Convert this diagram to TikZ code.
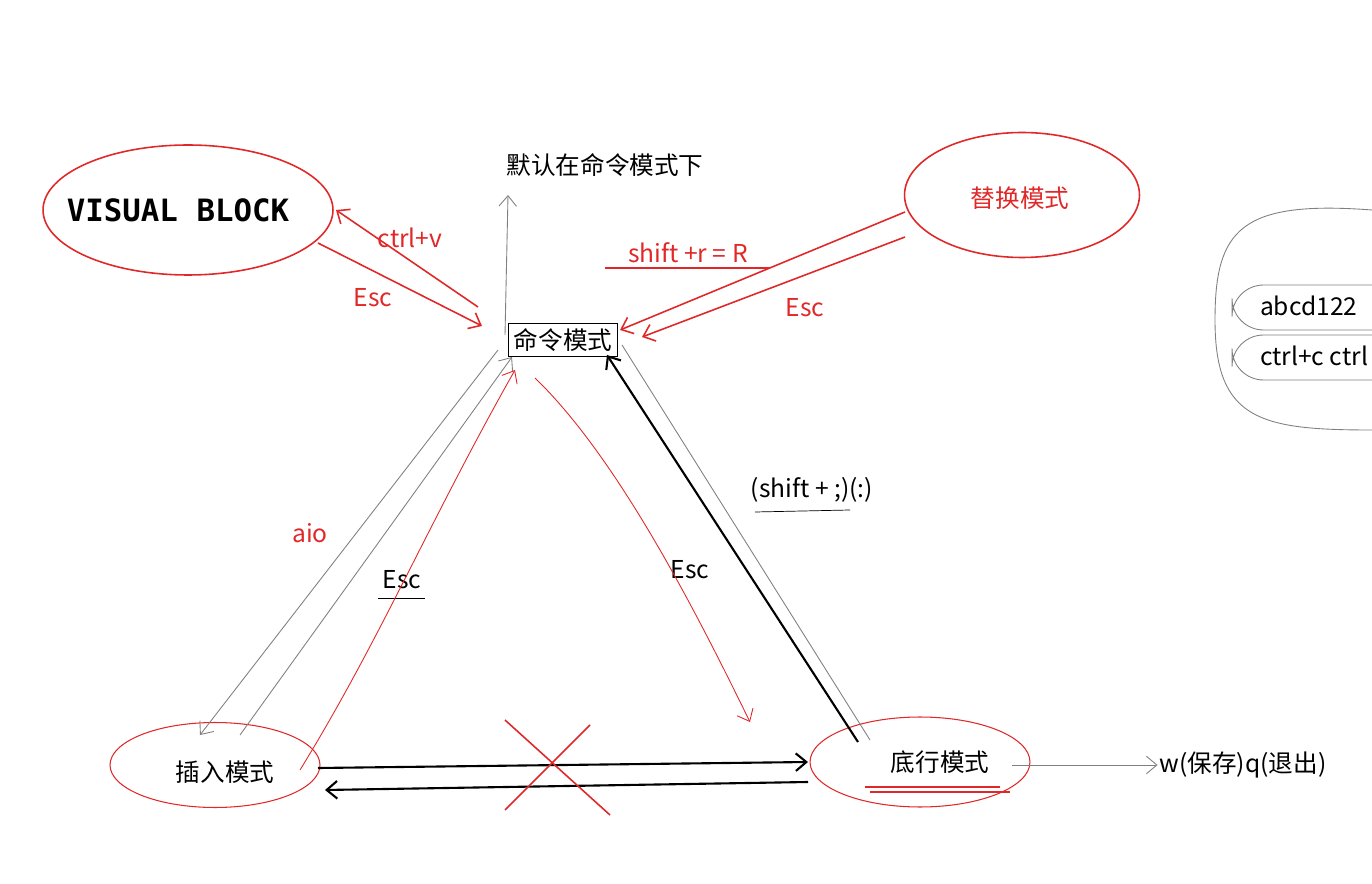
\documentclass[tikz,border=0pt]{standalone}
\usepackage{fontspec}
\setmainfont{Noto Sans CJK SC}
\setmonofont{DejaVu Sans Mono}
\usetikzlibrary{arrows.meta,shapes.geometric}
\definecolor{rd}{RGB}{224,40,40}
\tikzset{x=0.02cm,y=-0.02cm,
 lbl/.style={font=\fontsize{14}{16}\selectfont,inner sep=1pt},
 rlbl/.style={lbl,text=rd},
 rl/.style={draw=rd,line width=0.9pt},
 gl/.style={draw=gray,line width=0.5pt},
 bl/.style={draw=black,line width=1.2pt},
 tip/.style={-{Straight Barb[length=6pt,width=10pt]}}}
\begin{document}
\begin{tikzpicture}
\useasboundingbox (0,0) rectangle (1372,884);
% ellipses
\node[ellipse,rl,minimum width=5.8cm,minimum height=2.6cm] (vb) at (188,210) {};
\node[font=\ttfamily\bfseries\fontsize{17.5}{19}\selectfont] (vbt) at (178,210) {VISUAL BLOCK};
\node[ellipse,rl,minimum width=4.7cm,minimum height=2.5cm] (th) at (1022,195) {};
\node[rlbl] (tht) at (1020,198) {替换模式};
\node[lbl,draw=black,line width=0.4pt,inner sep=3pt] (cmd) at (563,340) {命令模式};
\node[lbl] (def) at (605,165) {默认在命令模式下};
\coordinate (defa) at (508,195);
\draw[gl,tip] (505,335) -- (defa);
% VB arrows
\node[rlbl] (cv) at (410,238) {ctrl+v};
\node[rlbl] (e1) at (373,298) {Esc};
\draw[rl,tip] (318,243) -- (482,326);
\draw[rl,tip] (478,307) -- (336,210);
% replace arrows
\node[rlbl] (sr) at (688,253) {shift +r = R};
\draw[rl] (605,268) -- (770,268);
\node[rlbl] (e2) at (805,308) {Esc};
\draw[rl,tip] (905,237) -- (642,337);
\draw[rl,tip] (905,212) -- (620,330);
% bottom nodes
\node[ellipse,rl,line width=0.6pt,minimum width=4.2cm,minimum height=1.7cm] (ins) at (215,765) {};
\node[lbl] (inst) at (225,772) {插入模式};
\node[ellipse,rl,line width=0.6pt,minimum width=4.4cm,minimum height=1.8cm] (bot) at (920,762) {};
\node[lbl] (bott) at (940,762) {底行模式};
\draw[rl,line width=0.6pt] (865,787) -- (1000,787) (870,792) -- (1010,792);
\node[lbl] (wq) at (1243,765) {w(保存)q(退出)};
\draw[gl,tip] (1012,765) -- (wq.west);
% horizontal arrows
\draw[bl,tip] (318,768) -- (808,762);
\draw[bl,tip] (808,782) -- (325,790);
\draw[rl] (505,720) -- (610,815) (505,810) -- (590,725);
% command <-> insert
\draw[gl,tip] (498,350) -- (200,735);
\draw[gl,tip] (240,735) -- (512,357);
\node[rlbl] (aio) at (310,533) {aio};
\node[lbl] (e3) at (402,580) {Esc};
\draw[black,line width=0.4pt] (378,598) -- (425,598);
\draw[rl,line width=0.5pt,tip] (300,770) .. controls (380,640) and (430,520) .. (515,370);
% command <-> bottom
\draw[bl,tip] (858,742) -- (607,355);
\draw[gl] (870,740) -- (622,345);
\node[lbl] (sc) at (812,490) {(shift + ;)(:)};
\draw[black,line width=0.4pt] (755,512) -- (850,510);
\node[lbl] (e4) at (690,570) {Esc};
\draw[rl,line width=0.5pt,tip] (535,378) .. controls (620,460) and (700,620) .. (750,722);
% right partial box
\begin{scope}
\clip (1200,200) rectangle (1372,440);
\draw[gray,line width=0.5pt] (1372,210) .. controls (1240,200) and (1215,230) .. (1215,320) .. controls (1215,420) and (1260,430) .. (1372,430);
\draw[gray,line width=0.5pt,rounded corners=18pt] (1400,285) -- (1232,285) -- (1232,330) -- (1400,330);
\draw[gray,line width=0.5pt,rounded corners=18pt] (1400,335) -- (1232,335) -- (1232,380) -- (1400,380);
\node[lbl,anchor=west] (ab) at (1258,306) {abcd122};
\node[lbl,anchor=west] (cc) at (1258,356) {ctrl+c ctrl};
\end{scope}
\end{tikzpicture}
\end{document}
